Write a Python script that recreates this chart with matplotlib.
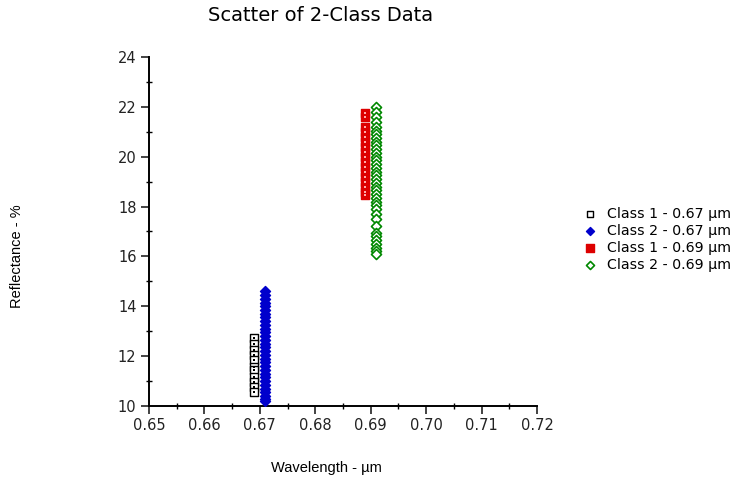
import matplotlib
matplotlib.use("Agg")
import matplotlib.pyplot as plt
from matplotlib.ticker import MultipleLocator, FormatStrFormatter

plt.rcParams['font.family'] = ['Verdana', 'DejaVu Sans']

# Class 1 at 0.67 um (drawn slightly left of 0.67)
c1_67_x = 0.669
c1_67_y = [12.73, 12.49, 12.25, 12.05, 11.85, 11.56, 11.44, 11.16, 10.96, 10.76, 10.56]
# Class 2 at 0.67 um
c2_67_x = 0.671
c2_67_y = [14.6, 14.45, 14.3, 14.15, 14.0, 13.85, 13.7, 13.55, 13.4, 13.25, 13.1, 12.95,
           12.8, 12.65, 12.5, 12.35, 12.2, 12.05, 11.9, 11.75, 11.6, 11.45, 11.3, 11.15,
           11.0, 10.85, 10.7, 10.55, 10.4, 10.28, 10.18]
# Class 1 at 0.69 um
c1_69_x = 0.689
c1_69_y = [21.75, 21.6, 21.2, 21.0, 20.8, 20.6, 20.4, 20.2, 20.0, 19.8, 19.6, 19.4,
           19.2, 19.0, 18.8, 18.6, 18.45]
# Class 2 at 0.69 um
c2_69_x = 0.691
c2_69_y = [22.0, 21.8, 21.6, 21.4, 21.2, 21.05, 20.9, 20.75, 20.6, 20.45, 20.3, 20.15,
           20.0, 19.85, 19.7, 19.55, 19.4, 19.25, 19.1, 18.95, 18.8, 18.65, 18.5, 18.35,
           18.2, 18.05, 17.9, 17.7, 17.5, 17.2, 16.95, 16.8, 16.65, 16.5, 16.35, 16.2, 16.1]

legend_labels = ['Class 1 - 0.67 \u00b5m', 'Class 2 - 0.67 \u00b5m',
                 'Class 1 - 0.69 \u00b5m', 'Class 2 - 0.69 \u00b5m']

fig = plt.figure(figsize=(7.38, 4.8), dpi=100)
ax = fig.add_axes([0.2019, 0.1542, 0.5257, 0.7271])

h1 = ax.scatter([c1_67_x] * len(c1_67_y), c1_67_y, marker='s', s=26,
                facecolor='white', edgecolor='black', linewidths=1.0, zorder=3)
ax.scatter([c1_67_x] * len(c1_67_y), c1_67_y, marker='s', s=2,
           color='black', linewidths=0, zorder=4)
h2 = ax.scatter([c2_67_x] * len(c2_67_y), c2_67_y, marker='D', s=26,
                color='#0000cc', zorder=3)
h3 = ax.scatter([c1_69_x] * len(c1_69_y), c1_69_y, marker='s', s=40,
                color='#dd0000', edgecolor='#dd0000', zorder=3)
ax.scatter([c1_69_x] * len(c1_69_y), c1_69_y, marker='s', s=0.8,
           color='#ffaaaa', linewidths=0, zorder=4)
h4 = ax.scatter([c2_69_x] * len(c2_69_y), c2_69_y, marker='D', s=26,
                facecolor='white', edgecolor='#008800', linewidths=1.2, zorder=3)

ax.set_xlim(0.65, 0.72)
ax.set_ylim(10, 24)
ax.xaxis.set_major_locator(MultipleLocator(0.01))
ax.xaxis.set_minor_locator(MultipleLocator(0.005))
ax.xaxis.set_major_formatter(FormatStrFormatter('%.2f'))
ax.yaxis.set_major_locator(MultipleLocator(2))
ax.yaxis.set_minor_locator(MultipleLocator(1))
for s in ['top', 'right']:
    ax.spines[s].set_visible(False)
for s in ['left', 'bottom']:
    ax.spines[s].set_linewidth(1.4)
ax.tick_params(which='major', direction='out', length=6, width=1.2,
               labelsize=10.5, pad=3, colors='#222222')
ax.tick_params(which='minor', direction='inout', length=4, width=1.0)

fig.text(0.434, 0.968, 'Scatter of 2-Class Data', ha='center', va='center', fontsize=14)
fig.text(0.442, 0.025, 'Wavelength - \u00b5m', ha='center', va='center',
         fontsize=10.5, family=['Liberation Sans', 'DejaVu Sans'])
fig.text(0.023, 0.467, 'Reflectance - %', ha='center', va='center', rotation=90,
         fontsize=10.5, family=['Liberation Sans', 'DejaVu Sans'])

fig.legend([h1, h2, h3, h4], legend_labels, loc='upper left',
           bbox_to_anchor=(0.775, 0.595), frameon=False, fontsize=10.2,
           handletextpad=0.8, labelspacing=0.2, handlelength=0.8, markerscale=0.8)

fig.savefig('out.png', dpi=100)
